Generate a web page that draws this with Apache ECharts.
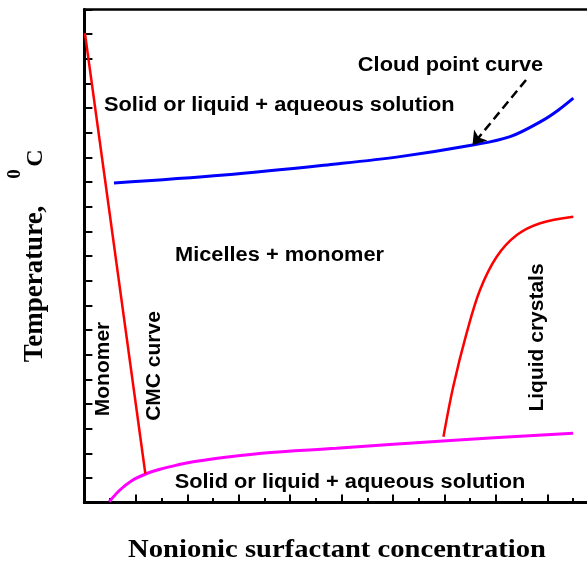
<!DOCTYPE html>
<html>
<head>
<meta charset="utf-8">
<script src="https://cdn.jsdelivr.net/npm/echarts@6/dist/echarts.min.js"></script>
<style>
html,body{margin:0;padding:0;background:#fff;overflow:hidden;}
#chart{width:600px;height:566px;}
</style>
</head>
<body>
<div id="chart"></div>
<script>
// ---- data (axis units: x = concentration ticks, y = temperature ticks) ----
const cmcCurve = [[0.02, 19.04], [2.37, 1.17]];
const cloudPointCurve = [[1.15, 12.96], [5.43, 13.28], [9.78, 13.73], [12.27, 14.03], [15.10, 14.50], [16.55, 14.84], [17.84, 15.51], [18.42, 15.91], [19.01, 16.40]];
const lowerBoundary = [[0.97, 0.04], [1.38, 0.51], [1.84, 0.89], [2.36, 1.15], [2.94, 1.35], [3.59, 1.52], [4.23, 1.66], [6.89, 2.00], [9.80, 2.20], [13.94, 2.50], [19.00, 2.81]];
const liquidCrystalCurve = [[13.96, 2.67], [14.34, 4.70], [14.86, 6.87], [15.38, 8.62], [16.03, 9.97], [16.81, 10.85], [17.72, 11.33], [19.01, 11.59]];
const cloudArrow = [[17.17, 17.14], [15.09, 14.50]];
const xTitle = 'Nonionic surfactant concentration';
const yTitle = 'Temperature,';
const yUnitSup = '0';
const yUnit = 'C';
const regionLabels = ['Cloud point curve', 'Solid or liquid + aqueous solution', 'Micelles + monomer', 'Solid or liquid + aqueous solution', 'Monomer', 'CMC curve', 'Liquid crystals'];

const chart = echarts.init(document.getElementById('chart'), null, {renderer: 'canvas', width: 600, height: 566});
const SANS = 'bold 20px "Liberation Sans", Arial, sans-serif';
const SANS_R = 'bold 21px "Liberation Sans", Arial, sans-serif';
const SERIF = '"Liberation Serif", "Times New Roman", serif';

function txt(text, x, y, font, opts) {
  opts = opts || {};
  return {
    type: 'text', x: x, y: y,
    rotation: opts.rotation || 0,
    scaleX: opts.scaleX || 1,
    silent: true, z: 10,
    style: {text: text, font: font, fill: '#000', align: 'center', verticalAlign: 'middle', textAlign: 'center', textVerticalAlign: 'middle'}
  };
}

const R = Math.PI / 2;
const option = {
  animation: false,
  backgroundColor: '#fff',
  grid: {left: 84.4, top: 9.4, width: 514.4, height: 493.2, show: true, borderColor: '#000', borderWidth: 2.5, containLabel: false},
  xAxis: {
    type: 'value', min: 0, max: 20, interval: 2,
    axisLine: {show: true, onZero: false, lineStyle: {color: '#000', width: 3}},
    axisTick: {show: true, inside: true, length: 8, lineStyle: {color: '#000', width: 2}},
    minorTick: {show: true, splitNumber: 2, length: 4.5, lineStyle: {color: '#000', width: 2}},
    axisLabel: {show: false}, splitLine: {show: false}, minorSplitLine: {show: false}
  },
  yAxis: {
    type: 'value', min: 0, max: 20, interval: 1,
    axisLine: {show: true, onZero: false, lineStyle: {color: '#000', width: 3}},
    axisTick: {show: true, inside: true, length: 8, lineStyle: {color: '#000', width: 2}},
    axisLabel: {show: false}, splitLine: {show: false}
  },
  series: [
    {type: 'line', data: cmcCurve, showSymbol: false, smooth: false, lineStyle: {color: '#ff0000', width: 2.5}, z: 3},
    {type: 'line', data: cloudPointCurve, showSymbol: false, smooth: 0.35, lineStyle: {color: '#0000ff', width: 3}, z: 3},
    {type: 'line', data: lowerBoundary, showSymbol: false, smooth: 0.35, lineStyle: {color: '#ff00ff', width: 3}, z: 2},
    {type: 'line', data: liquidCrystalCurve, showSymbol: false, smooth: 0.35, lineStyle: {color: '#ff0000', width: 2.5}, z: 3},
    {type: 'lines', coordinateSystem: 'cartesian2d', data: [{coords: cloudArrow}], symbol: ['none', 'arrow'], symbolSize: 13,
     lineStyle: {color: '#000', width: 2.5, type: [9, 5], opacity: 1}, z: 4}
  ],
  graphic: {elements: [
    txt(regionLabels[0], 450.5, 65, SANS, {scaleX: 1.09}),
    txt(regionLabels[1], 279.3, 105.5, SANS, {scaleX: 1.09}),
    txt(regionLabels[2], 279.5, 255, SANS, {scaleX: 1.09}),
    txt(regionLabels[3], 350, 482, SANS, {scaleX: 1.09}),
    txt(regionLabels[4], 103, 369, SANS_R, {rotation: R}),
    txt(regionLabels[5], 154.5, 366, SANS_R, {rotation: R}),
    txt(regionLabels[6], 537, 337.5, SANS_R, {rotation: R}),
    txt(xTitle, 337, 550.5, 'bold 26px ' + SERIF, {scaleX: 1.1}),
    txt(yTitle, 35, 284, 'bold 27px ' + SERIF, {rotation: R}),
    txt(yUnit, 36, 158, 'bold 24px ' + SERIF, {rotation: R}),
    txt(yUnitSup, 15, 174, 'bold 19px ' + SERIF, {rotation: R})
  ]}
};
chart.setOption(option);
</script>
</body>
</html>
